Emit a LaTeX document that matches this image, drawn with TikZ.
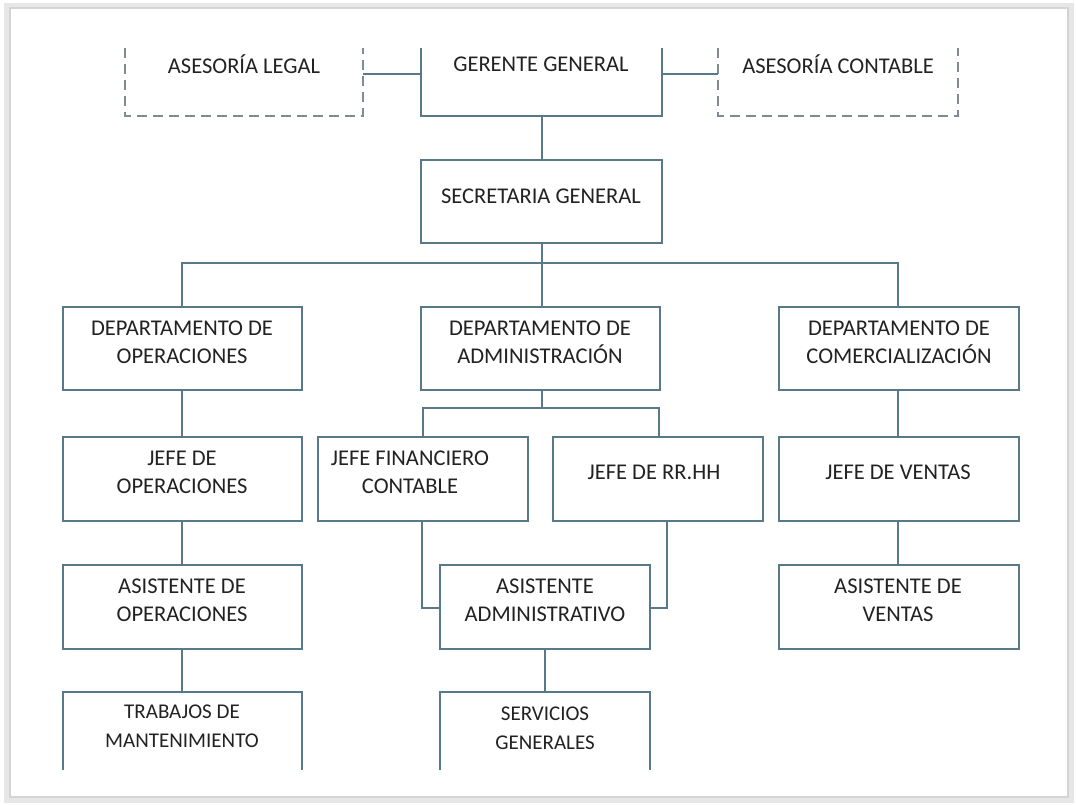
\documentclass[tikz,border=0pt]{standalone}
\usepackage{fontspec}
\setmainfont{Carlito}
\definecolor{ln}{HTML}{587A88}
\definecolor{dsh}{HTML}{7E8A94}
\definecolor{tx}{HTML}{222222}
\definecolor{frm}{HTML}{D4D4D4}
\begin{document}
\begin{tikzpicture}[x=1pt,y=-1pt,
  box/.style={draw=ln,line width=1.7pt},
  dbox/.style={draw=dsh,line width=1.5pt,dash pattern=on 10pt off 6pt},
  conn/.style={draw=ln,line width=1.5pt},
  lbl/.style={text=tx,font=\fontsize{22.5}{28}\selectfont,align=center,inner sep=0pt},
  lblc/.style={lbl,font=\fontsize{21}{29}\selectfont}]
\useasboundingbox (0,0) rectangle (1076,805);
% page frame with soft shadow
\fill[white] (0,0) rectangle (1076,805);
\draw[frm!55,line width=6pt] (7,6) rectangle (1071,800);
\draw[frm,line width=1.5pt] (10,8) rectangle (1068,797);
% ---- top row (open-top boxes)
\draw[dbox] (125,48) -- (125,116) -- (363,116) -- (363,48);
\node[lbl] (al) at (244,64) {ASESORÍA LEGAL};
\draw[box] (421,48) -- (421,116) -- (662,116) -- (662,48);
\node[lbl] (gg) at (541,64) {GERENTE GENERAL};
\draw[dbox] (718,48) -- (718,116) -- (958,116) -- (958,48);
\node[lbl] (ac) at (838,64) {ASESORÍA CONTABLE};
\coordinate (ggL) at (421,74);
\coordinate (ggR) at (662,74);
\coordinate (alR) at (363,74);
\coordinate (acL) at (718,74);
\coordinate (ggB) at (542,116);
\draw[conn] (ggL) -- (alR);
\draw[conn] (ggR) -- (acL);
% ---- Secretaria
\draw[box] (421,160) rectangle (662,243);
\node[lbl] (sg) at (541,196) {SECRETARIA GENERAL};
\coordinate (sgT) at (542,160);
\coordinate (sgB) at (542,243);
\draw[conn] (ggB) -- (sgT);
% ---- departments
\draw[box] (63,307) rectangle (302,390);
\node[lbl] (dop) at (182,342) {DEPARTAMENTO DE\\OPERACIONES};
\draw[box] (421,307) rectangle (660,390);
\node[lbl] (dad) at (540,342) {DEPARTAMENTO DE\\ADMINISTRACIÓN};
\draw[box] (779,307) rectangle (1019,390);
\node[lbl] (dco) at (899,342) {DEPARTAMENTO DE\\COMERCIALIZACIÓN};
\coordinate (busL) at (182,263);
\coordinate (busM) at (542,263);
\coordinate (busR) at (898,263);
\draw[conn] (sgB) -- (busM);
\draw[conn] (182,307) -- (busL) -- (busR) -- (898,307);
\draw[conn] (busM) -- (542,307);
% ---- jefes
\draw[box] (63,437) rectangle (302,521);
\node[lbl] (jop) at (182,472) {JEFE DE\\OPERACIONES};
\draw[box] (318,437) rectangle (528,521);
\node[lbl] (jfc) at (410,472) {JEFE FINANCIERO\\CONTABLE};
\draw[box] (553,437) rectangle (763,521);
\node[lbl] (jrh) at (654,472) {JEFE DE RR.HH};
\draw[box] (779,437) rectangle (1019,521);
\node[lbl] (jve) at (898,472) {JEFE DE VENTAS};
\draw[conn] (182,390) -- (182,437);
\draw[conn] (898,390) -- (898,437);
\coordinate (admB) at (542,390);
\coordinate (abus) at (542,408);
\draw[conn] (admB) -- (abus);
\draw[conn] (423,437) -- (423,408) -- (659,408) -- (659,437);
% ---- asistentes
\draw[box] (63,565) rectangle (302,649);
\node[lbl] (aop) at (182,600) {ASISTENTE DE\\OPERACIONES};
\draw[box] (440,565) rectangle (650,649);
\node[lbl] (aad) at (545,600) {ASISTENTE\\ADMINISTRATIVO};
\draw[box] (779,565) rectangle (1019,649);
\node[lbl] (ave) at (898,600) {ASISTENTE DE\\VENTAS};
\draw[conn] (182,521) -- (182,565);
\draw[conn] (898,521) -- (898,565);
\draw[conn] (422,521) -- (422,608) -- (440,608);
\draw[conn] (667,521) -- (667,608) -- (650,608);
% ---- bottom row (open-bottom boxes)
\draw[box] (63,770) -- (63,692) -- (302,692) -- (302,770);
\node[lblc] (tm) at (182,726) {TRABAJOS DE\\MANTENIMIENTO};
\draw[box] (440,770) -- (440,692) -- (650,692) -- (650,770);
\node[lblc] (sgn) at (545,728) {SERVICIOS\\GENERALES};
\draw[conn] (182,649) -- (182,692);
\draw[conn] (545,649) -- (545,692);
\end{tikzpicture}
\end{document}
